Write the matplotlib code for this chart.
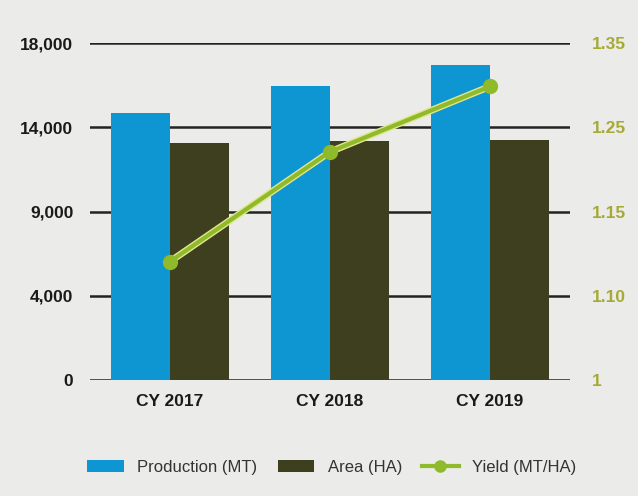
import matplotlib
matplotlib.use("Agg")
import matplotlib.pyplot as plt
import matplotlib.patheffects as pe
from matplotlib.lines import Line2D
import numpy as np

plt.rcParams['font.family'] = ['Liberation Sans Narrow', 'Liberation Sans', 'DejaVu Sans']

years = ["CY 2017", "CY 2018", "CY 2019"]
production = [14260, 15700, 16830]   # MT
area = [12660, 12770, 12820]         # HA
yield_mt = [1.123, 1.237, 1.305]     # MT/HA

left_ticks = [0, 4500, 9000, 13500, 18000]
left_labels = ["0", "4,000", "9,000", "14,000", "18,000"]
right_ticks = [1.0, 1.0875, 1.175, 1.2625, 1.35]
right_labels = ["1", "1.10", "1.15", "1.25", "1.35"]

bg = "#ebebe9"
fig = plt.figure(figsize=(6.38, 4.96), dpi=100, facecolor=bg)
ax = fig.add_axes([0.141, 0.234, 0.752, 0.679])
ax.set_facecolor(bg)

x = np.arange(len(years))
w = 0.37
ax.bar(x - w / 2, production, w, color="#0d96d2", label="Production (MT)", zorder=2)
ax.bar(x + w / 2, area, w, color="#3e3f1e", label="Area (HA)", zorder=2)

ax.set_xlim(-0.5, 2.5)
ax.set_ylim(0, 18000)
ax.set_yticks(left_ticks)
ax.set_yticklabels(left_labels, fontsize=12.5, fontweight="bold", color="#1a1a1a")
ax.set_xticks(x)
ax.set_xticklabels(years, fontsize=12.5, fontweight="bold", color="#1a1a1a")
ax.tick_params(axis="y", length=0, pad=12)
ax.tick_params(axis="x", length=0, pad=10)
ax.grid(axis="y", color="#222222", linewidth=1.8, zorder=0)
ax.set_axisbelow(True)
for s in ax.spines.values():
    s.set_visible(False)

ax2 = ax.twinx()
ax2.set_ylim(1.0, 1.35)
ax2.set_yticks(right_ticks)
ax2.set_yticklabels(right_labels, fontsize=12.5, color="#a6aa34", fontweight="bold")
ax2.tick_params(axis="y", length=0, pad=16)
for s in ax2.spines.values():
    s.set_visible(False)
green = "#8fba2c"
ax2.plot(x, yield_mt, color=green, linewidth=3, zorder=3,
         path_effects=[pe.Stroke(linewidth=5, foreground="#e2e68a"), pe.Normal()])
ax2.plot(x, yield_mt, linestyle="none", marker="o", markersize=10,
         color=green, markeredgecolor=green, zorder=4)

h1, l1 = ax.get_legend_handles_labels()
h3 = Line2D([], [], color=green, linewidth=3, marker="o", markersize=8)
fig.legend(h1 + [h3], l1 + ["Yield (MT/HA)"], loc="center",
           bbox_to_anchor=(0.52, 0.058), ncol=3, frameon=False, fontsize=12,
           handlelength=2.2, columnspacing=1.2, labelcolor="#333333")

fig.savefig("out.png", dpi=100, facecolor=bg)
